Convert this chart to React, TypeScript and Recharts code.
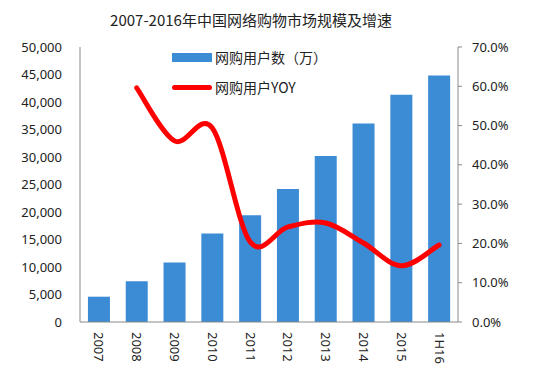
import {
  ComposedChart,
  Bar,
  Line,
  XAxis,
  YAxis,
} from "recharts";

const years = ["2007", "2008", "2009", "2010", "2011", "2012", "2013", "2014", "2015", "1H16"];
const users = [4600, 7400, 10800, 16100, 19400, 24200, 30200, 36100, 41300, 44800];
const yoy = [null, 0.596, 0.461, 0.494, 0.204, 0.242, 0.252, 0.201, 0.143, 0.196];

const leftTicks = [0, 5000, 10000, 15000, 20000, 25000, 30000, 35000, 40000, 45000, 50000];
const rightTicks = [0, 0.1, 0.2, 0.3, 0.4, 0.5, 0.6, 0.7];

const data = years.map((y, i) => ({ year: y, users: users[i], yoy: yoy[i] }));

const FONT = "'Noto Sans', 'Noto Sans CJK SC', sans-serif";
const AXIS = "#898989";
const BLUE = "#3B8BD5";

// excel-like smoothing (catmull-rom through the points)
function smoothCurve(context: any) {
  let pts: number[][] = [];
  return {
    areaStart() {},
    areaEnd() {},
    lineStart() {
      pts = [];
    },
    point(x: number, y: number) {
      pts.push([+x, +y]);
    },
    lineEnd() {
      if (!pts.length) return;
      context.moveTo(pts[0][0], pts[0][1]);
      for (let i = 0; i < pts.length - 1; i++) {
        const p0 = pts[i - 1] || pts[i];
        const p1 = pts[i];
        const p2 = pts[i + 1];
        const p3 = pts[i + 2] || p2;
        context.bezierCurveTo(
          p1[0] + (p2[0] - p0[0]) / 6,
          p1[1] + (p2[1] - p0[1]) / 6,
          p2[0] - (p3[0] - p1[0]) / 6,
          p2[1] - (p3[1] - p1[1]) / 6,
          p2[0],
          p2[1]
        );
      }
    },
  };
}

function YearTick(props: any) {
  const { x, y, payload } = props;
  return (
    <text
      x={x}
      y={y}
      transform={`rotate(90, ${x}, ${y})`}
      dy="0.35em"
      textAnchor="start"
      fontSize={13}
      fill="#222"
      fontFamily={FONT}
    >
      {payload.value}
    </text>
  );
}

function LegendBox() {
  return (
    <div
      style={{
        position: "absolute",
        left: 172,
        top: 48,
        fontFamily: "'Noto Sans CJK SC', sans-serif",
        fontSize: 14,
        color: "#222",
        zIndex: 2,
      }}
    >
      <div style={{ display: "flex", alignItems: "center", height: 18 }}>
        <span style={{ display: "inline-block", width: 40, height: 9, background: BLUE, marginRight: 3 }} />
        网购用户数（万）
      </div>
      <div style={{ display: "flex", alignItems: "center", height: 18, marginTop: 12 }}>
        <span style={{ display: "inline-block", width: 40, height: 5, borderRadius: 3, background: "#FF0000", marginRight: 3 }} />
        网购用户YOY
      </div>
    </div>
  );
}

export default function App() {
  return (
    <div style={{ position: "absolute", left: 0, top: 0, width: 555, height: 374, background: "#fff" }}>
      <div
        style={{
          position: "absolute",
          left: 0,
          width: 502,
          top: 9,
          textAlign: "center",
          fontFamily: "'Noto Sans CJK SC', sans-serif",
          fontSize: 15,
          color: "#222",
        }}
      >
        2007-2016年中国网络购物市场规模及增速
      </div>
      <ComposedChart
        width={555}
        height={374}
        data={data}
        margin={{ top: 47, right: 0, bottom: 0, left: 0 }}
        barCategoryGap="21%"
      >
        <XAxis
          dataKey="year"
          stroke={AXIS}
          tickLine={false}
          tickSize={0}
          tickMargin={10}
          height={52}
          tick={<YearTick />}
          interval={0}
        />
        <YAxis
          yAxisId="left"
          domain={[0, 50000]}
          ticks={leftTicks}
          width={80}
          stroke={AXIS}
          tickLine={false}
          tickSize={0}
          tickMargin={18}
          tick={{ fontSize: 13, fill: "#222", fontFamily: FONT }}
          tickFormatter={(v: number) => v.toLocaleString("en-US")}
        />
        <YAxis
          yAxisId="right"
          orientation="right"
          domain={[0, 0.7]}
          ticks={rightTicks}
          width={97}
          stroke={AXIS}
          tickSize={4}
          tickMargin={10}
          tick={{ fontSize: 13, fill: "#222", fontFamily: FONT, textAnchor: "start" }}
          tickFormatter={(v: number) => (v * 100).toFixed(1) + "%"}
        />
        <Bar yAxisId="left" dataKey="users" fill={BLUE} isAnimationActive={false} />
        <Line
          yAxisId="right"
          dataKey="yoy"
          type={smoothCurve as any}
          stroke="#FF0000"
          strokeWidth={5}
          strokeLinecap="round"
          dot={false}
          isAnimationActive={false}
        />
      </ComposedChart>
      <LegendBox />
    </div>
  );
}
